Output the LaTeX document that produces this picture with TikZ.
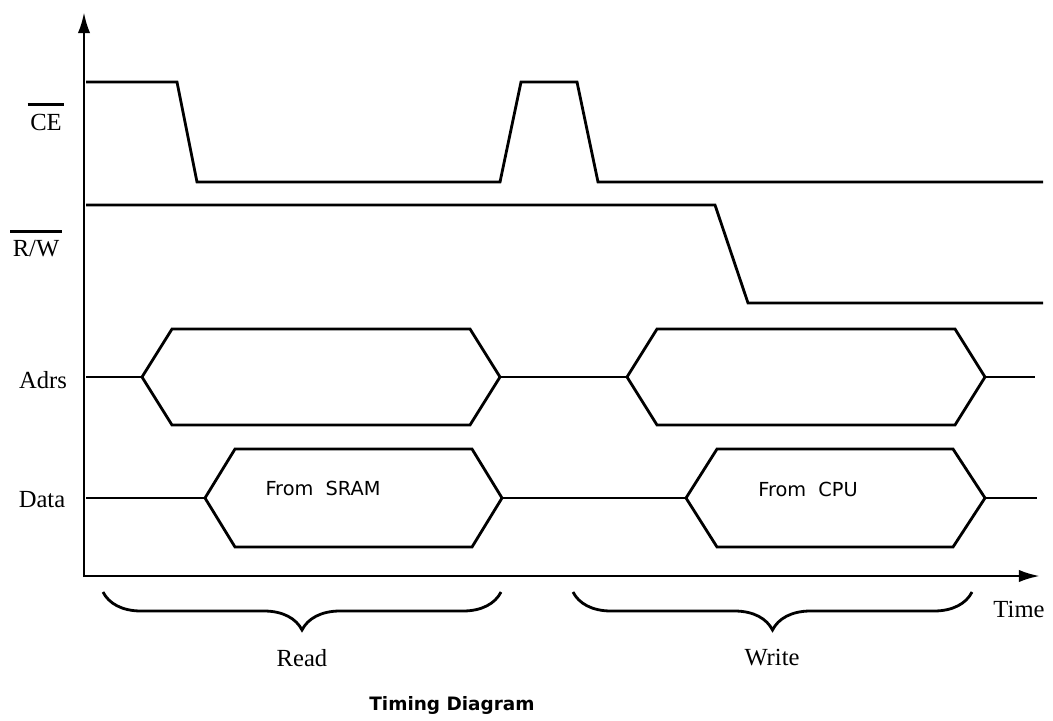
\documentclass[tikz,border=0pt]{standalone}
\usepackage{fontspec}
\setmainfont{Liberation Serif}
\newfontfamily\labelsans{DejaVu Sans}
\usetikzlibrary{arrows.meta,decorations.pathreplacing}

\tikzset{
  signal/.style={line width=1.6pt, line join=miter},
  axis/.style={line width=1.6pt, -{Latex[length=12pt,width=7pt]}},
  curly/.style={line width=1.6pt, decorate, decoration={brace, mirror, amplitude=0.76cm}},
  bar/.style={line width=1.6pt},
  lbl/.style={font=\fontsize{14}{16}\selectfont},
  bus/.style={font=\labelsans\fontsize{11}{13}\selectfont},
}

\begin{document}
\begin{tikzpicture}[x=0.02cm,y=-0.02cm]
        \useasboundingbox (0,0) rectangle (1053,720);
        % axes
        \draw[axis] (84,577) -- (84,12);
        \draw[axis] (83.2,576) -- (1040,576);
        % CE
        \draw[signal] (86,82) -- (177,82) -- (197,182) -- (500,182) -- (521,82) -- (577,82) -- (598,182) -- (1043,182);
        % R/W
        \draw[signal] (86,205) -- (715,205) -- (748,303) -- (1043,303);
        % Adrs
        \draw[signal] (86,377) -- (142,377);
        \draw[signal] (142,377) -- (172,329) -- (470,329) -- (500,377) -- (470,425) -- (172,425) -- cycle;
        \draw[signal] (500,377) -- (627,377);
        \draw[signal] (627,377) -- (657,329) -- (955,329) -- (985,377) -- (955,425) -- (657,425) -- cycle;
        \draw[signal] (985,377) -- (1035,377);
        % Data
        \draw[signal] (86,498) -- (205,498);
        \draw[signal] (205,498) -- (235,449) -- (472,449) -- (502,498) -- (472,547) -- (235,547) -- cycle;
        \draw[signal] (502,498) -- (686,498);
        \draw[signal] (686,498) -- (717,449) -- (953,449) -- (985,498) -- (953,547) -- (717,547) -- cycle;
        \draw[signal] (985,498) -- (1037,498);
        % braces
        \draw[curly] (103,592) -- (501,592);
        \draw[curly] (573,592) -- (972,592);
        % labels
        \node[lbl] (ce) at (46,122) {CE};
        \draw[bar] ([yshift=1.5pt]ce.north west) ++(2pt,0) -- ([yshift=1.5pt,xshift=-2pt]ce.north east);
        \node[lbl] (rw) at (36,249) {R/W};
        \draw[bar] ([yshift=1.5pt]rw.north west) ++(2pt,0) -- ([yshift=1.5pt,xshift=-2pt]rw.north east);
        \node[lbl] (adrs) at (43,380) {Adrs};
        \node[lbl] (data) at (42,500) {Data};
        \node[lbl] (time) at (1019,609) {Time};
        \node[lbl] (read) at (302,658) {Read};
        \node[lbl] (write) at (772,658) {Write};
        \node[bus] (fromsram) at (323,488) {From\ \ SRAM};
        \node[bus] (fromcpu) at (808,489) {From\ \ CPU};
        \node[font=\labelsans\bfseries\fontsize{10.5}{12}\selectfont] (title) at (452,705) {Timing Diagram};
      \end{tikzpicture}
\end{document}
